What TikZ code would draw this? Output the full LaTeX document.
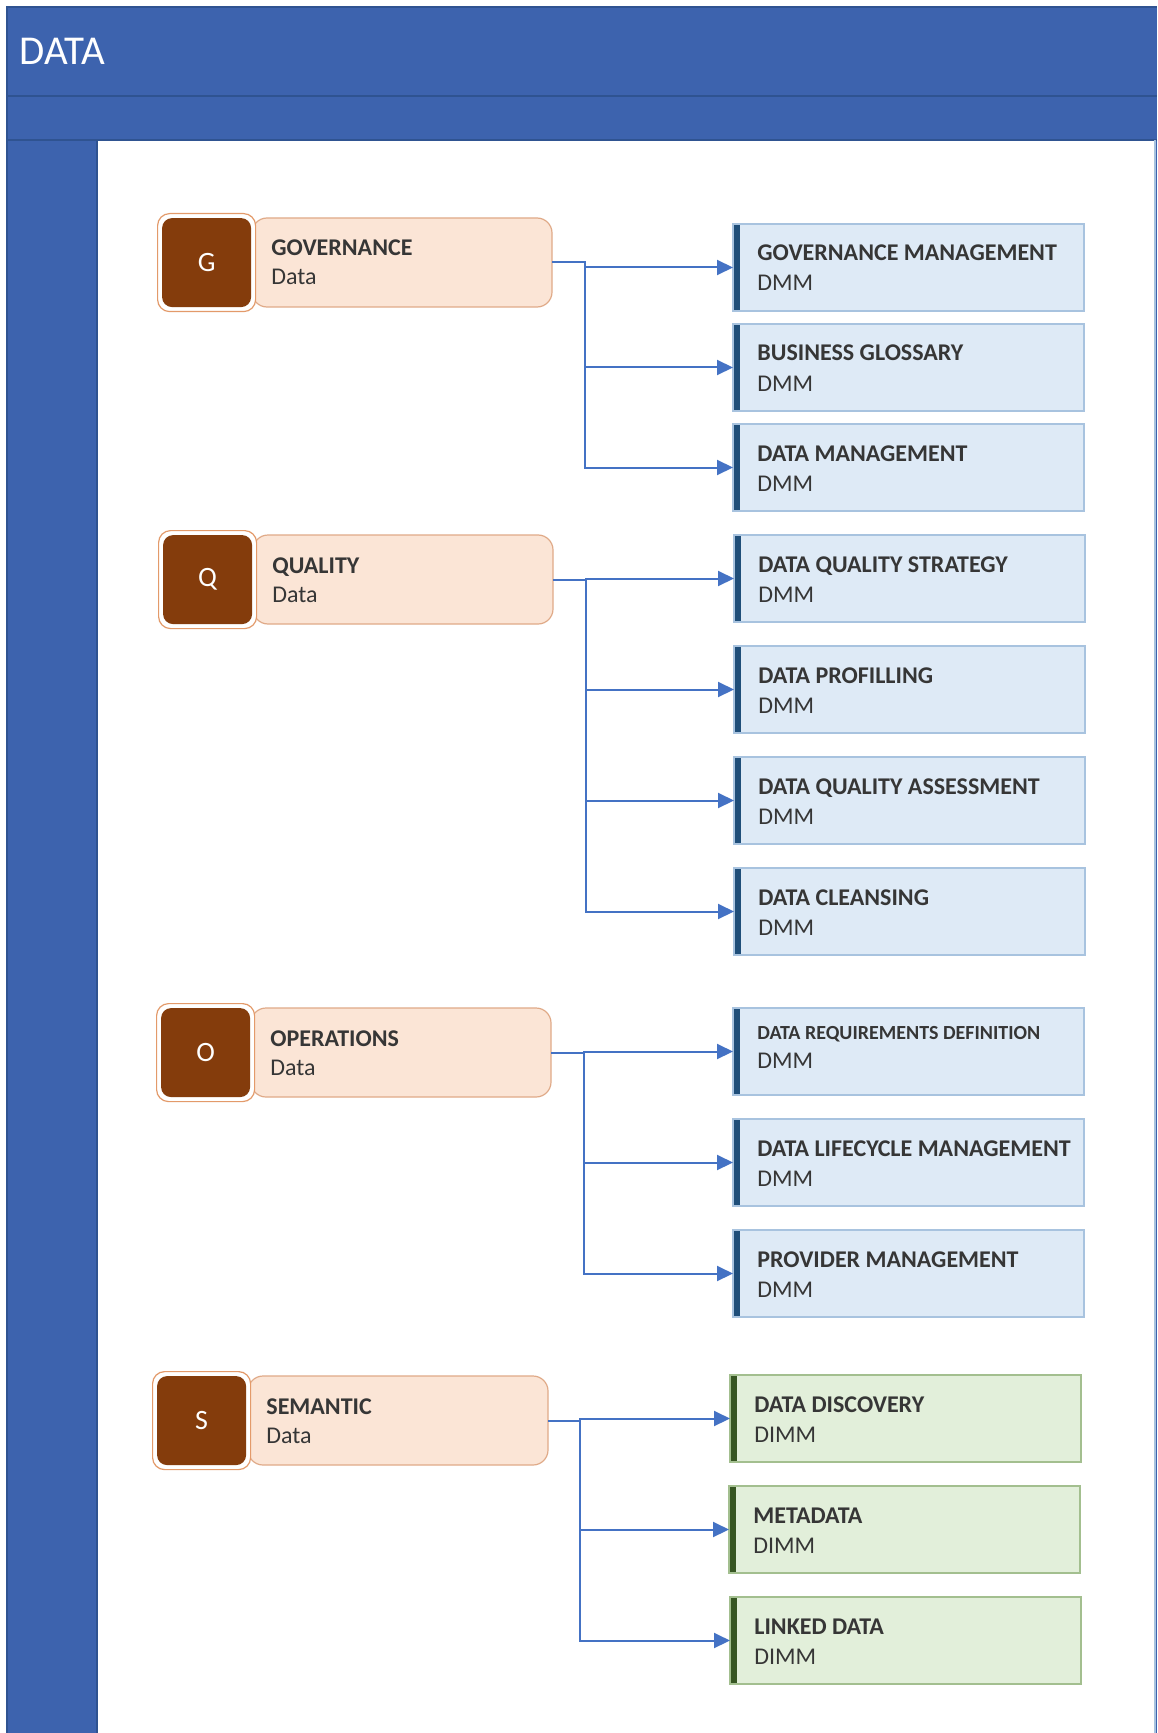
\documentclass[tikz,border=0pt]{standalone}
\usepackage{fontspec}
\setmainfont{Carlito}
\usetikzlibrary{arrows.meta}

\definecolor{hdrblue}{HTML}{3D63AE}
\definecolor{hdrline}{HTML}{2F5391}
\definecolor{brownsq}{HTML}{843C0C}
\definecolor{peachfill}{HTML}{FBE5D6}
\definecolor{peachline}{HTML}{E0AA88}
\definecolor{sqline}{HTML}{E39A6A}
\definecolor{bluefill}{HTML}{DEEAF6}
\definecolor{blueline}{HTML}{A8C3DF}
\definecolor{bluebar}{HTML}{1F4E79}
\definecolor{greenfill}{HTML}{E2EFDA}
\definecolor{greenline}{HTML}{A3BF8F}
\definecolor{greenbar}{HTML}{375623}
\definecolor{linkblue}{HTML}{4472C4}
\definecolor{txt}{HTML}{363636}

\tikzset{
  frameline/.style={draw=hdrline, line width=0.6pt},
  peachbox/.style={draw=peachline, fill=peachfill, line width=0.6pt, rounded corners=7.5pt,
    minimum width=150pt, minimum height=44.5pt, inner sep=0pt, outer sep=0pt},
  outersq/.style={draw=sqline, fill=white, line width=0.6pt, rounded corners=6pt,
    minimum size=49pt, inner sep=0pt},
  brownsq/.style={fill=brownsq, rounded corners=5pt, minimum size=44.5pt, inner sep=0pt,
    text=white, font=\fontsize{14}{16}\selectfont},
  dmmbox/.style={draw=blueline, fill=bluefill, line width=0.6pt, minimum width=175.5pt,
    minimum height=43.5pt, inner sep=0pt, outer sep=0pt,
    path picture={\fill[bluebar] (path picture bounding box.north west) rectangle
      ([xshift=3.6pt]path picture bounding box.south west);}},
  dimmbox/.style={draw=greenline, fill=greenfill, line width=0.6pt, minimum width=175.5pt,
    minimum height=43.5pt, inner sep=0pt, outer sep=0pt,
    path picture={\fill[greenbar] (path picture bounding box.north west) rectangle
      ([xshift=3.6pt]path picture bounding box.south west);}},
  headtxt/.style={anchor=base west, inner sep=0pt, text=txt, font=\bfseries\fontsize{12}{14}\selectfont},
  smallhead/.style={anchor=base west, inner sep=0pt, text=txt, font=\bfseries\fontsize{10}{12}\selectfont},
  subtxt/.style={anchor=base west, inner sep=0pt, text=txt, font=\fontsize{12}{14}\selectfont},
  link/.style={draw=linkblue, line width=1pt, -{Triangle[length=8pt,width=7.5pt]}},
}

% category: name, letter, square x, box top y, box right x, title
\newcommand\category[6]{%
  \node[peachbox, anchor=north east] (#1) at (#5,#4) {};
  \node[outersq, anchor=north west] (#1sq) at (#3,{#4-5}) {};
  \node[brownsq] (#1ltr) at (#1sq.center) {#2};
  \node[headtxt] (#1t) at ({#3+114},{#4+38}) {#6};
  \node[subtxt] (#1s) at ({#3+114},{#4+67}) {Data};
}
% practice area: name, x, top y, title, subtitle, box style, title style, title/sub offsets
\newcommand\practice[9]{%
  \node[#6, anchor=north west] (#1) at (#2,#3) {};
  \node[#7] (#1t) at ({#2+24},{#3+#8}) {#4};
  \node[subtxt] (#1s) at ({#2+24},{#3+#9}) {#5};
}

\begin{document}
\begin{tikzpicture}[x=0.5pt,y=-0.5pt]
\useasboundingbox (0,0) rectangle (1157,1733);
\fill[white] (0,0) rectangle (1157,1733);

% container with header and side band
\fill[hdrblue] (7,7) rectangle (1157,1733);
\fill[white] (97,140) rectangle (1155,1733);
\draw[frameline] (7,1733) -- (7,7) -- (1157,7);
\draw[frameline] (7,96) -- (1157,96);
\draw[frameline] (7,140) -- (1157,140);
\draw[frameline] (97,140) -- (97,1733);
\draw[draw=blueline, line width=0.8pt] (1155,140) -- (1155,1733);
\node[anchor=base west, inner sep=0pt, text=white, font=\fontsize{20.5}{24}\selectfont] (hdr) at (19,65) {DATA};

% governance
\category{gov}{G}{157}{218}{552}{GOVERNANCE}
\practice{gov1}{733}{224}{GOVERNANCE MANAGEMENT}{DMM}{dmmbox}{headtxt}{37}{67}
\practice{gov2}{733}{324}{BUSINESS GLOSSARY}{DMM}{dmmbox}{headtxt}{37}{67}
\practice{gov3}{733}{424}{DATA MANAGEMENT}{DMM}{dmmbox}{headtxt}{37}{67}
\coordinate (govj) at (585,262.5);
\foreach \b in {gov1,gov2,gov3} \draw[link] (gov.east) -- (gov.east -| govj) |- (\b.west);

% quality
\category{qua}{Q}{158}{535}{553}{QUALITY}
\practice{qua1}{734}{535}{DATA QUALITY STRATEGY}{DMM}{dmmbox}{headtxt}{37}{67}
\practice{qua2}{734}{646}{DATA PROFILLING}{DMM}{dmmbox}{headtxt}{37}{67}
\practice{qua3}{734}{757}{DATA QUALITY ASSESSMENT}{DMM}{dmmbox}{headtxt}{37}{67}
\practice{qua4}{734}{868}{DATA CLEANSING}{DMM}{dmmbox}{headtxt}{37}{67}
\coordinate (quaj) at (586,578.5);
\foreach \b in {qua1,qua2,qua3,qua4} \draw[link] (qua.east) -- (qua.east -| quaj) |- (\b.west);

% operations
\category{ops}{O}{156}{1008}{551}{OPERATIONS}
\practice{ops1}{733}{1008}{DATA REQUIREMENTS DEFINITION}{DMM}{dmmbox}{smallhead}{31}{60}
\practice{ops2}{733}{1119}{DATA LIFECYCLE MANAGEMENT}{DMM}{dmmbox}{headtxt}{37}{67}
\practice{ops3}{733}{1230}{PROVIDER MANAGEMENT}{DMM}{dmmbox}{headtxt}{37}{67}
\coordinate (opsj) at (584,1052);
\foreach \b in {ops1,ops2,ops3} \draw[link] (ops.east) -- (ops.east -| opsj) |- (\b.west);

% semantic
\category{sem}{S}{152}{1376}{548}{SEMANTIC}
\practice{sem1}{730}{1375}{DATA DISCOVERY}{DIMM}{dimmbox}{headtxt}{37}{67}
\practice{sem2}{729}{1486}{METADATA}{DIMM}{dimmbox}{headtxt}{37}{67}
\practice{sem3}{730}{1597}{LINKED DATA}{DIMM}{dimmbox}{headtxt}{37}{67}
\coordinate (semj) at (580,1419.5);
\foreach \b in {sem1,sem2,sem3} \draw[link] (sem.east) -- (sem.east -| semj) |- (\b.west);
\end{tikzpicture}
\end{document}
